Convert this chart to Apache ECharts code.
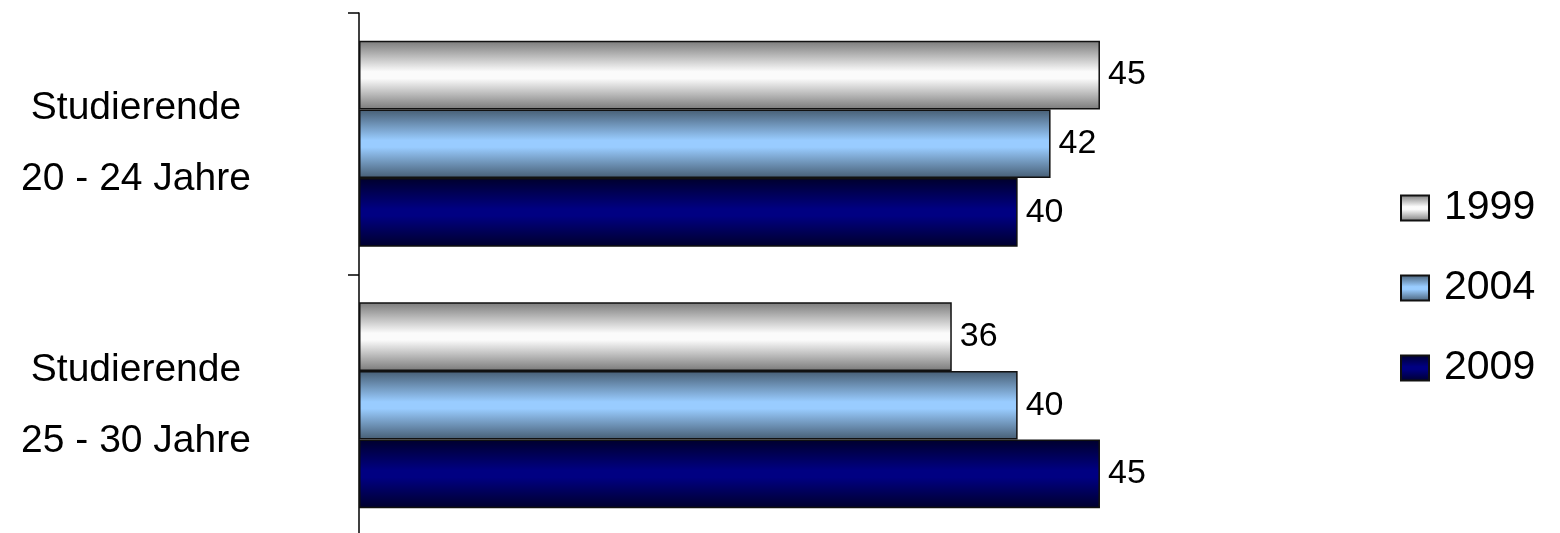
<!DOCTYPE html>
<html>
<head>
<meta charset="utf-8">
<script src="https://cdn.jsdelivr.net/npm/echarts@6/dist/echarts.min.js"></script>
<style>
html,body{margin:0;padding:0;background:#fff;overflow:hidden;width:1560px;height:533px;}
#chart{width:1560px;height:560px;}
</style>
</head>
<body>
<div id="chart"></div>
<script>
const categories = ['Studierende\n20 - 24 Jahre', 'Studierende\n25 - 30 Jahre'];
const seriesNames = ['1999', '2004', '2009'];
const values1999 = [45, 36];
const values2004 = [42, 40];
const values2009 = [40, 45];

function grad(edge, mid) {
  return new echarts.graphic.LinearGradient(0, 0, 0, 1, [
    {offset: 0, color: edge},
    {offset: 0.45, color: mid},
    {offset: 0.55, color: mid},
    {offset: 1, color: edge}
  ]);
}
const styles = [
  grad('#7a7a7a', '#fbfbfb'),
  grad('#465d73', '#99ccff'),
  grad('#00002c', '#000082')
];
const dataSets = [values1999, values2004, values2009];

const chart = echarts.init(document.getElementById('chart'));
chart.setOption({
  animation: false,
  backgroundColor: '#ffffff',
  textStyle: {fontFamily: 'Liberation Sans, Arial, sans-serif'},
  grid: {left: 359, top: 13, height: 523, width: 823.3, containLabel: false},
  xAxis: {type: 'value', min: 0, max: 50, show: false},
  yAxis: {
    type: 'category',
    data: categories,
    inverse: true,
    axisLine: {show: true, lineStyle: {color: '#000', width: 1.5}},
    axisTick: {show: true, length: 11, lineStyle: {color: '#000', width: 1.5}},
    axisLabel: {
      margin: 223,
      align: 'center',
      fontSize: 39,
      lineHeight: 71,
      color: '#000',
      fontFamily: 'Liberation Sans, Arial, sans-serif'
    },
    splitLine: {show: false}
  },
  legend: {
    orient: 'vertical',
    left: 1395,
    top: 182,
    itemWidth: 28,
    itemHeight: 25,
    itemGap: 38,
    icon: 'rect',
    textStyle: {fontSize: 41, lineHeight: 42, color: '#000', padding: [0, 0, 0, 10], fontFamily: 'Liberation Sans, Arial, sans-serif'},
    data: seriesNames
  },
  series: seriesNames.map((name, i) => ({
    name: name,
    type: 'bar',
    data: dataSets[i],
    barGap: '0%',
    barCategoryGap: '21.2%',
    itemStyle: {color: styles[i], borderColor: '#111', borderWidth: 1.5},
    label: {
      show: true,
      position: 'right',
      distance: 8,
      fontSize: 34,
      color: '#000',
      fontFamily: 'Liberation Sans, Arial, sans-serif'
    }
  }))
});
</script>
</body>
</html>
